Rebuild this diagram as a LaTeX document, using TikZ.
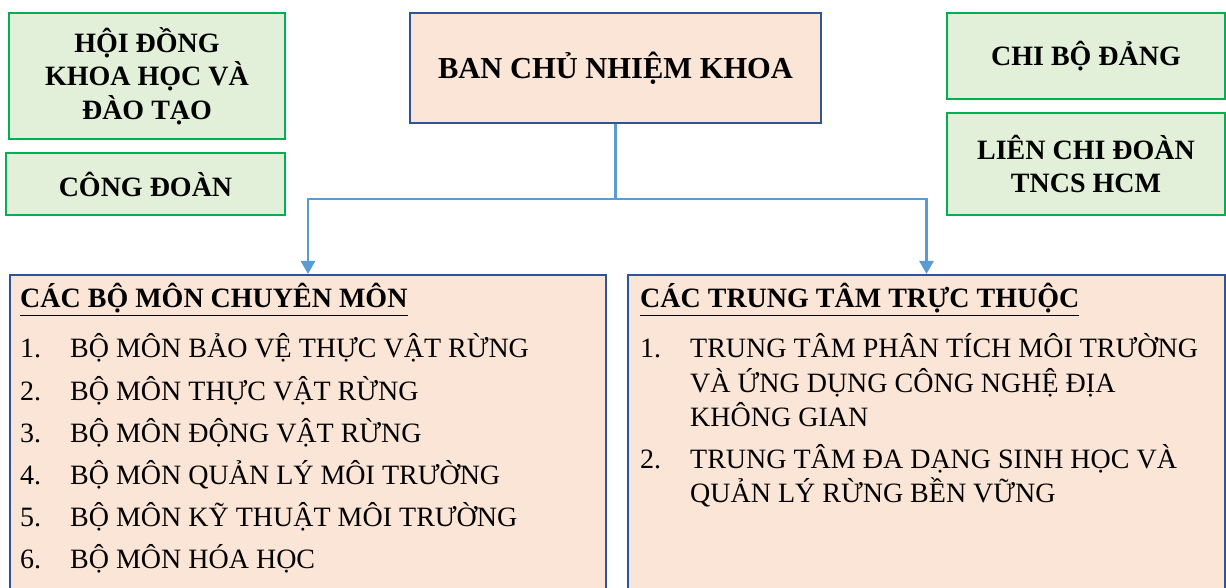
\documentclass[tikz,border=0pt]{standalone}
\usepackage{fontspec}
\setmainfont{Liberation Serif}
\usetikzlibrary{arrows.meta}
\definecolor{gborder}{HTML}{00B050}
\definecolor{gfill}{HTML}{E2F0D9}
\definecolor{peach}{HTML}{FBE5D6}
\definecolor{dblue}{HTML}{2F5597}
\definecolor{conn}{HTML}{5B9BD5}
\begin{document}
\begin{tikzpicture}[x=1bp,y=-1bp,
  sidebox/.style={draw=gborder,line width=2bp,fill=gfill,inner sep=0pt,align=center,
    font=\bfseries\fontsize{28bp}{33.5bp}\selectfont},
  headbox/.style={draw=dblue,line width=2bp,fill=peach,inner sep=0pt,align=center,
    font=\bfseries\fontsize{30.5bp}{35bp}\selectfont},
  bigbox/.style={draw=dblue,line width=2bp,fill=peach,inner sep=0pt},
  heading/.style={anchor=base west,inner sep=0pt,font=\bfseries\fontsize{28bp}{33bp}\selectfont},
  itemtxt/.style={anchor=base west,inner sep=0pt,font=\fontsize{28bp}{33bp}\selectfont},
  link/.style={draw=conn,line width=2.6bp},
  arrowlink/.style={link,-{Triangle[width=14bp,length=13bp]}}]
\useasboundingbox (0,0) rectangle (1226,588);
\clip (0,0) rectangle (1226,588);
% top boxes
\node[sidebox,minimum width=276bp,minimum height=126bp] (hoidong) at (147,76) {HỘI ĐỒNG\\KHOA HỌC VÀ\\ĐÀO TẠO};
\node[sidebox,minimum width=279bp,minimum height=62bp] (congdoan) at (145.5,184) {CÔNG ĐOÀN};
\node[headbox,minimum width=411bp,minimum height=110bp] (ban) at (615.5,68) {BAN CHỦ NHIỆM KHOA};
\node[sidebox,minimum width=278bp,minimum height=86bp] (chibo) at (1086,56) {CHI BỘ ĐẢNG};
\node[sidebox,minimum width=278bp,minimum height=102bp] (lienchi) at (1086,164) {LIÊN CHI ĐOÀN\\TNCS HCM};
% big boxes
\node[bigbox,minimum width=596bp,minimum height=325bp] (lbox) at (308,437.5) {};
\node[bigbox,minimum width=597bp,minimum height=325bp] (rbox) at (926.5,437.5) {};
% connectors
\coordinate (j) at (615.5,199);
\draw[link] (ban.south) -- (j);
\draw[arrowlink] (j) -| (lbox.north);
\draw[arrowlink] (j) -| (rbox.north);
% left list
\node[heading] (lhead) at (20,308) {\underline{CÁC BỘ MÔN CHUYÊN MÔN}};
\node[itemtxt] (ln1) at (20,358) {1.};
\node[itemtxt] (lt1) at (70,358) {BỘ MÔN BẢO VỆ THỰC VẬT RỪNG};
\node[itemtxt] (ln2) at (20,400) {2.};
\node[itemtxt] (lt2) at (70,400) {BỘ MÔN THỰC VẬT RỪNG};
\node[itemtxt] (ln3) at (20,442) {3.};
\node[itemtxt] (lt3) at (70,442) {BỘ MÔN ĐỘNG VẬT RỪNG};
\node[itemtxt] (ln4) at (20,484) {4.};
\node[itemtxt] (lt4) at (70,484) {BỘ MÔN QUẢN LÝ MÔI TRƯỜNG};
\node[itemtxt] (ln5) at (20,526) {5.};
\node[itemtxt] (lt5) at (70,526) {BỘ MÔN KỸ THUẬT MÔI TRƯỜNG};
\node[itemtxt] (ln6) at (20,568) {6.};
\node[itemtxt] (lt6) at (70,568) {BỘ MÔN HÓA HỌC};
% right list
\node[heading] (rhead) at (640,308) {\underline{CÁC TRUNG TÂM TRỰC THUỘC}};
\node[itemtxt] (rn1) at (640,358) {1.};
\node[itemtxt] (rt1a) at (690,358) {TRUNG TÂM PHÂN TÍCH MÔI TRƯỜNG};
\node[itemtxt] (rt1b) at (690,392) {VÀ ỨNG DỤNG CÔNG NGHỆ ĐỊA};
\node[itemtxt] (rt1c) at (690,426) {KHÔNG GIAN};
\node[itemtxt] (rn2) at (640,468) {2.};
\node[itemtxt] (rt2a) at (690,468) {TRUNG TÂM ĐA DẠNG SINH HỌC VÀ};
\node[itemtxt] (rt2b) at (690,502) {QUẢN LÝ RỪNG BỀN VỮNG};
\end{tikzpicture}
\end{document}
